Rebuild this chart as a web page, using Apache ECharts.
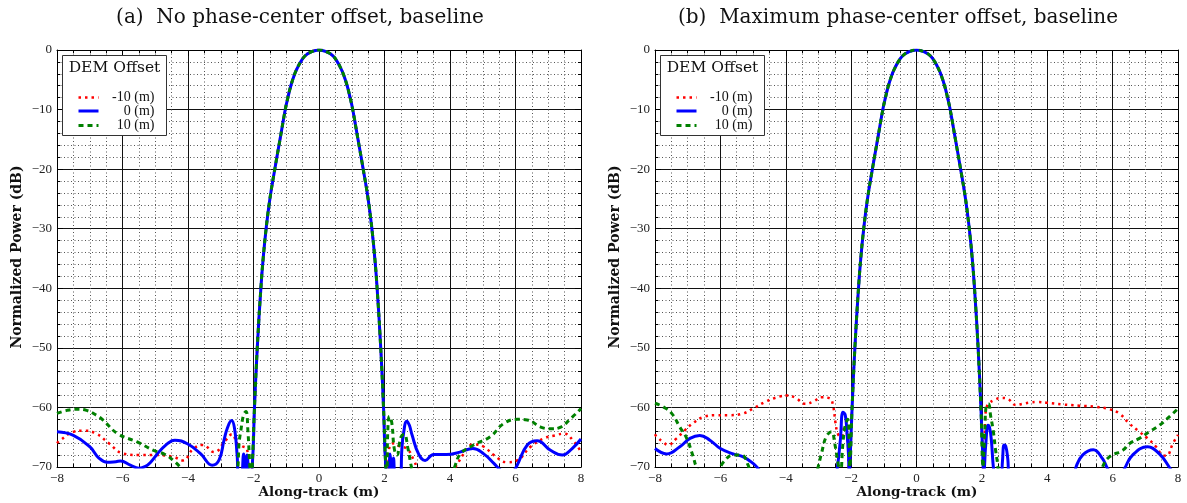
<!DOCTYPE html>
<html>
<head>
<meta charset="utf-8">
<script src="https://cdn.jsdelivr.net/npm/echarts@6/dist/echarts.min.js"></script>
<style>
  html, body { margin: 0; padding: 0; background: #fff; }
  #chart { width: 1187px; height: 503px; }
</style>
</head>
<body>
<div id="chart"></div>
<script>
// Along-track axis ticks (m) and power ticks (dB)
const xTicks = [-8, -6, -4, -2, 0, 2, 4, 6, 8];
const yTicks = [-70, -60, -50, -40, -30, -20, -10, 0];

// Main lobe, shared by every DEM offset
const lobeX  = [-2.04, -1.97, -1.885, -1.775, -1.705, -1.615, -1.5, -1.35, -1.19, -1.03, -0.95, -0.86, -0.74, -0.66, -0.56, -0.43, -0.25, 0,
                0.25, 0.43, 0.56, 0.66, 0.74, 0.86, 0.95, 1.03, 1.19, 1.35, 1.5, 1.615, 1.705, 1.775, 1.885, 1.97, 2.04];
const lobeDb = [-70, -60, -50, -40, -35, -30, -25, -20, -15, -10, -8, -6, -4, -3, -2, -1, -0.35, 0,
                -0.35, -1, -2, -3, -4, -6, -8, -10, -15, -20, -25, -30, -35, -40, -50, -60, -70];

// Panel (a): side lobes, [along-track m, dB]
const aRedLeft = [[-8,-66.0],[-7.9,-65.5],[-7.5,-64.1],[-7.2,-63.9],[-6.8,-64.4],[-6.4,-66.1],[-6.0,-67.7],[-5.5,-68.0],[-4.95,-68.0],[-4.45,-68.3],[-4.15,-68.9],[-3.85,-67.0],[-3.55,-66.3],[-3.2,-67.5],[-2.85,-65.5],[-2.65,-64.5],[-2.5,-66],[-2.35,-66.5],[-2.2,-67],[-2.1,-72]];
const aRedRight = [[2.1,-72],[2.15,-66.6],[2.3,-66],[2.45,-66.5],[2.7,-67],[2.9,-68.9],[3.05,-70.5],[3.5,-72],[4.0,-71],[4.2,-69.7],[4.42,-67.8],[4.72,-66.2],[5.03,-66.6],[5.34,-68],[5.74,-69.2],[6.05,-68.9],[6.46,-66.6],[6.87,-65.2],[7.2,-64.7],[7.48,-64.4],[7.79,-65.8],[8,-67.5]];
const aBlueLeft = [[-8,-64.1],[-7.5,-64.7],[-7.0,-66.6],[-6.72,-68.5],[-6.47,-69.2],[-6.2,-69.1],[-6.06,-69.0],[-5.76,-69.7],[-5.5,-70.2],[-5.3,-69.9],[-5.14,-69.2],[-4.84,-67.2],[-4.5,-65.6],[-4.4,-65.5],[-4.02,-66.1],[-3.61,-67.8],[-3.26,-69.7],[-3.05,-68.8],[-2.9,-65.5],[-2.8,-63.5],[-2.67,-62.2],[-2.58,-63.5],[-2.5,-68],[-2.45,-72],[-2.38,-72],[-2.3,-67.8],[-2.25,-70.5],[-2.2,-68],[-2.12,-72]];
const aBlueRight = [[2.12,-72],[2.17,-67.8],[2.22,-70.5],[2.27,-68.5],[2.35,-72],[2.48,-72],[2.53,-67],[2.58,-64.4],[2.68,-62.3],[2.76,-63],[2.84,-64.6],[3.04,-67.8],[3.24,-68.9],[3.5,-67.9],[3.9,-67.9],[4.3,-67.5],[4.7,-66.9],[5.03,-67.8],[5.34,-69.4],[5.5,-70.3],[5.75,-71.5],[5.95,-70.6],[6.05,-69.7],[6.36,-66.3],[6.66,-65.6],[7.07,-67.2],[7.43,-68.0],[7.73,-66.9],[8,-65.3]];
const aGreenLeft = [[-8,-61.0],[-7.7,-60.5],[-7.4,-60.3],[-7.1,-60.5],[-6.8,-61.3],[-6.6,-62.1],[-6.15,-64.4],[-5.55,-65.8],[-5.05,-67.2],[-4.7,-67.9],[-4.45,-68.9],[-4.2,-70.3],[-4.0,-72],[-2.6,-72],[-2.5,-71],[-2.44,-66],[-2.39,-64],[-2.3,-61.2],[-2.23,-60.7],[-2.17,-64],[-2.11,-70],[-2.07,-72]];
const aGreenRight = [[2.07,-72],[2.1,-64],[2.15,-61.5],[2.22,-62.5],[2.3,-67],[2.38,-68],[2.5,-65],[2.6,-64.5],[2.72,-67],[2.85,-70.5],[3.0,-72],[4.0,-72],[4.16,-69.7],[4.32,-67.8],[4.72,-66.3],[5.23,-64.9],[5.64,-62.7],[6.05,-62],[6.36,-62.1],[6.77,-63.3],[7.1,-63.6],[7.38,-63.3],[7.68,-61.9],[8,-60.2]];

// Panel (b): side lobes, [along-track m, dB]
const bRedLeft = [[-8,-64.5],[-7.95,-64.9],[-7.75,-65.8],[-7.6,-66.3],[-7.34,-65.2],[-7.08,-63.8],[-6.83,-62.6],[-6.52,-61.6],[-6.12,-61.3],[-5.71,-61.3],[-5.3,-61.0],[-5.0,-60.2],[-4.6,-59.0],[-4.2,-58.2],[-3.95,-58.0],[-3.7,-58.4],[-3.4,-59.4],[-3.15,-59.0],[-2.9,-58.3],[-2.65,-58.5],[-2.55,-59.8],[-2.48,-62.5],[-2.4,-64.5],[-2.3,-65],[-2.2,-63],[-2.1,-66],[-2.06,-72]];
const bRedRight = [[2.06,-72],[2.1,-62],[2.15,-59.9],[2.22,-59.3],[2.4,-58.7],[2.6,-58.4],[2.8,-58.6],[3.04,-59.6],[3.25,-59.4],[3.45,-59.2],[3.7,-59.1],[3.96,-59.2],[4.47,-59.5],[4.98,-59.7],[5.49,-59.9],[5.9,-60.3],[6.2,-61],[6.51,-62.7],[6.82,-64.1],[7.07,-65.2],[7.33,-66.6],[7.53,-68],[7.65,-68.1],[7.84,-66.1],[8,-64.6]];
const bBlueLeft = [[-8,-66.9],[-7.64,-67.8],[-7.24,-66.6],[-6.93,-65.2],[-6.63,-64.7],[-6.32,-65.5],[-6.0,-66.9],[-5.61,-67.8],[-5.3,-68.3],[-5.0,-69.4],[-4.84,-70.3],[-4.6,-72],[-2.5,-72],[-2.42,-70],[-2.33,-65.5],[-2.25,-60.8],[-2.18,-61.3],[-2.13,-64],[-2.08,-68],[-2.06,-72]];
const bBlueRight = [[2.06,-72],[2.08,-70],[2.12,-66.1],[2.19,-63],[2.24,-63.5],[2.29,-65.5],[2.36,-70.5],[2.42,-72],[2.58,-72],[2.63,-69],[2.68,-66.3],[2.73,-66.5],[2.79,-68.5],[2.85,-72],[4.8,-72],[4.88,-70],[5.08,-68],[5.41,-67.1],[5.69,-68.6],[5.85,-70.3],[6.1,-72],[6.3,-70.8],[6.36,-70.3],[6.61,-68],[7.07,-66.6],[7.43,-67.8],[7.73,-70],[7.9,-71.5],[8,-72.5]];
const bGreenLeft = [[-8,-59.3],[-7.75,-59.9],[-7.49,-61.0],[-7.24,-63.3],[-7.03,-65.2],[-6.83,-68.3],[-6.73,-70],[-6.5,-72],[-6.1,-71],[-5.91,-69.2],[-5.61,-68],[-5.35,-68],[-5.15,-69.7],[-5.0,-72],[-3.1,-72],[-3.01,-70],[-2.91,-67.8],[-2.76,-64.9],[-2.6,-64.1],[-2.5,-66.1],[-2.4,-69.4],[-2.33,-71],[-2.25,-66],[-2.18,-63],[-2.1,-62],[-2.06,-66]];
const bGreenRight = [[2.06,-70],[2.09,-64],[2.13,-59.8],[2.2,-59.4],[2.27,-61.5],[2.35,-64],[2.42,-67.2],[2.48,-69.4],[2.55,-72],[5.6,-72],[5.69,-70],[5.9,-68.3],[6.31,-67.2],[6.51,-66.1],[6.82,-65.2],[7.12,-64.1],[7.43,-63],[7.73,-61.6],[8,-60.2]];

const offsetNames = ['-10 (m)', '0 (m)', '10 (m)'];
const panelTitles = ['(a)  No phase-center offset, baseline', '(b)  Maximum phase-center offset, baseline'];

const RED = '#ff0000', BLUE = '#0000ff', GREEN = '#008000';
const TICK_FONT = '"Liberation Serif", "DejaVu Serif", serif';
const TITLE_FONT = '"DejaVu Serif", "Liberation Serif", serif';

const lobe = lobeX.map((x, i) => [x, lobeDb[i]]);
const profile = (left, right) => left.concat(lobe, right);
const minus = v => String(v).replace('-', '\u2212');

const grids = [
  { left: 57, right: 606, top: 50, bottom: 36 },
  { left: 655, right: 9, top: 50, bottom: 36 }
];

const xAxes = [], yAxes = [];
grids.forEach((g, gi) => {
  const common = {
    type: 'value', gridIndex: gi,
    axisLine: { show: true, onZero: false, lineStyle: { color: '#000', width: 1 } },
    axisTick: { show: true, inside: true, length: 6, lineStyle: { color: '#000' } },
    minorTick: { show: true, length: 3, lineStyle: { color: '#000' } }
  };
  const grid = { show: true, lineStyle: { color: '#111', width: 1 } };
  const minorGrid = { show: true, lineStyle: { color: '#555', width: 1, type: [1, 2.5] } };
  const label = { formatter: minus, fontFamily: TICK_FONT, fontSize: 13, color: '#222', margin: 5 };
  xAxes.push(Object.assign({}, common, {
    position: 'bottom', min: xTicks[0], max: xTicks[xTicks.length - 1], interval: 2,
    minorTick: Object.assign({}, common.minorTick, { splitNumber: 4 }),
    axisLabel: label, splitLine: grid, minorSplitLine: minorGrid
  }));
  xAxes.push(Object.assign({}, common, {
    position: 'top', min: xTicks[0], max: xTicks[xTicks.length - 1], interval: 2,
    minorTick: Object.assign({}, common.minorTick, { splitNumber: 4 }),
    axisLabel: { show: false }, splitLine: { show: false }, minorSplitLine: { show: false }
  }));
  yAxes.push(Object.assign({}, common, {
    position: 'left', min: yTicks[0], max: yTicks[yTicks.length - 1], interval: 10,
    minorTick: Object.assign({}, common.minorTick, { splitNumber: 5 }),
    axisLabel: label, splitLine: grid, minorSplitLine: minorGrid
  }));
  yAxes.push(Object.assign({}, common, {
    position: 'right', min: yTicks[0], max: yTicks[yTicks.length - 1], interval: 10,
    minorTick: Object.assign({}, common.minorTick, { splitNumber: 5 }),
    axisLabel: { show: false }, splitLine: { show: false }, minorSplitLine: { show: false }
  }));
});

const styles = [
  { color: RED, width: 2.5, type: [2.5, 4] },
  { color: BLUE, width: 3, type: 'solid' },
  { color: GREEN, width: 3, type: [5, 4] }
];
const panels = [
  [[aRedLeft, aRedRight], [aBlueLeft, aBlueRight], [aGreenLeft, aGreenRight]],
  [[bRedLeft, bRedRight], [bBlueLeft, bBlueRight], [bGreenLeft, bGreenRight]]
];

const series = [];
panels.forEach((sets, pi) => {
  sets.forEach((sides, si) => {
    series.push({
      type: 'line', name: offsetNames[si],
      xAxisIndex: pi * 2, yAxisIndex: pi * 2,
      data: profile(sides[0], sides[1]),
      showSymbol: false, symbol: 'none', smooth: 0.45, clip: true,
      lineStyle: { color: styles[si].color, width: styles[si].width, type: styles[si].type, cap: 'butt' },
      z: 2 + si, animation: false
    });
  });
});

// Titles, axis names and legend boxes
const graphic = [];
const plotCenters = [319, 917];
panelTitles.forEach((t, pi) => {
  const g = grids[pi];
  graphic.push({ type: 'text', x: plotCenters[pi] - 19, y: 18,
    style: { text: t, font: '20px ' + TITLE_FONT, fill: '#111', textAlign: 'center', textVerticalAlign: 'middle' } });
  graphic.push({ type: 'text', x: g.left - 40, y: 257, rotation: Math.PI / 2,
    style: { text: 'Normalized Power (dB)', font: 'bold 14px ' + TITLE_FONT, fill: '#111', textAlign: 'center', textVerticalAlign: 'middle' } });
  graphic.push({ type: 'text', x: plotCenters[pi], y: 492,
    style: { text: 'Along-track (m)', font: 'bold 13.5px ' + TITLE_FONT, fill: '#111', textAlign: 'center', textVerticalAlign: 'middle' } });

  const bx = g.left + 5.5, by = 55.5;
  graphic.push({ type: 'rect', z: 100, shape: { x: bx, y: by, width: 104, height: 80 },
    style: { fill: '#fff', stroke: '#333', lineWidth: 1 } });
  graphic.push({ type: 'text', z: 101, x: bx + 52, y: 68,
    style: { text: 'DEM Offset', font: '15.5px ' + TITLE_FONT, fill: '#111', textAlign: 'center', textVerticalAlign: 'middle' } });
  const rowsY = [97.5, 111, 125.5];
  offsetNames.forEach((n, si) => {
    graphic.push({ type: 'line', z: 101,
      shape: { x1: bx + 16, y1: rowsY[si], x2: bx + 36, y2: rowsY[si] },
      style: { stroke: styles[si].color, lineWidth: styles[si].width, lineDash: styles[si].type === 'solid' ? null : styles[si].type } });
    graphic.push({ type: 'text', z: 101, x: bx + 92, y: rowsY[si],
      style: { text: n, font: '14px ' + TICK_FONT, fill: '#111', textAlign: 'right', textVerticalAlign: 'middle' } });
  });
});

const chart = echarts.init(document.getElementById('chart'), null, { renderer: 'canvas' });
chart.setOption({
  animation: false,
  backgroundColor: '#fff',
  grid: grids,
  xAxis: xAxes,
  yAxis: yAxes,
  series: series,
  graphic: graphic
});
</script>
</body>
</html>
